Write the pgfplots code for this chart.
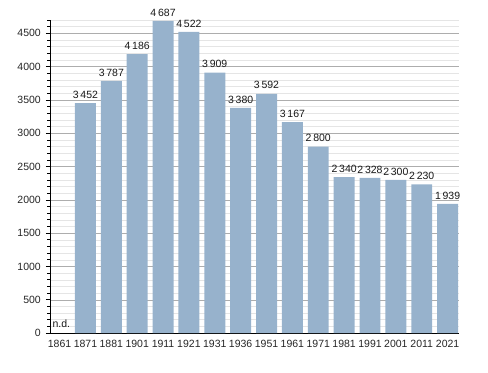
\documentclass[border=0pt]{standalone}
\usepackage{fontspec}
\setmainfont{Liberation Sans}
\usepackage{pgfplots}
\pgfplotsset{compat=1.18}
\definecolor{barblue}{RGB}{151,178,204}
\begin{document}
\fontsize{10.5bp}{12bp}\selectfont
\begin{tikzpicture}
\useasboundingbox (-50bp,-40bp) rectangle (438bp,333bp);
\begin{axis}[
  at={(0,0)}, anchor=south west,
  width=409bp, height=313bp, scale only axis,
  xmin=-0.37, xmax=15.44, ymin=0, ymax=4700,
  enlargelimits=false, clip=false,
  axis x line*=bottom, axis y line*=left,
  axis line style={-, black},
  ybar, bar width=0.81,
  ytick={0,500,...,4500},
  minor ytick={0,100,...,4700},
  ymajorgrids, yminorgrids,
  major grid style={color=black!32},
  minor grid style={color=black!10},
  y tick style={black, line width=0.6pt},
  tick align=outside,
  major tick length=4bp, minor tick length=2.5bp,
  xtick={0,...,15},
  xticklabels={1861,1871,1881,1901,1911,1921,1931,1936,1951,1961,1971,1981,1991,2001,2011,2021},
  x tick style={draw=none},
  tick label style={font=\fontsize{10.5bp}{12bp}\selectfont, text=black!85},
  xticklabel style={yshift=0.5bp},
  yticklabel style={xshift=-1.5bp},
  /pgf/number format/assume math mode=true,
  /pgf/number format/1000 sep={},
  nodes near coords={\pgfmathprintnumber[1000 sep={\,}]{\pgfplotspointmeta}},
  every node near coord/.append style={font=\fontsize{10.5bp}{12bp}\selectfont, text=black!90, inner sep=0pt, yshift=4.5bp},
]
\addplot[fill=barblue, draw=none] coordinates {
(1,3452) (2,3787) (3,4186) (4,4687) (5,4522) (6,3909) (7,3380) (8,3592)
(9,3167) (10,2800) (11,2340) (12,2328) (13,2300) (14,2230) (15,1939)
};
\node[anchor=base west, inner sep=0pt, text=black!90, font=\fontsize{10.5bp}{12bp}\selectfont] at (axis cs:-0.28,90) {n.d.};
\end{axis}
\end{tikzpicture}
\end{document}
